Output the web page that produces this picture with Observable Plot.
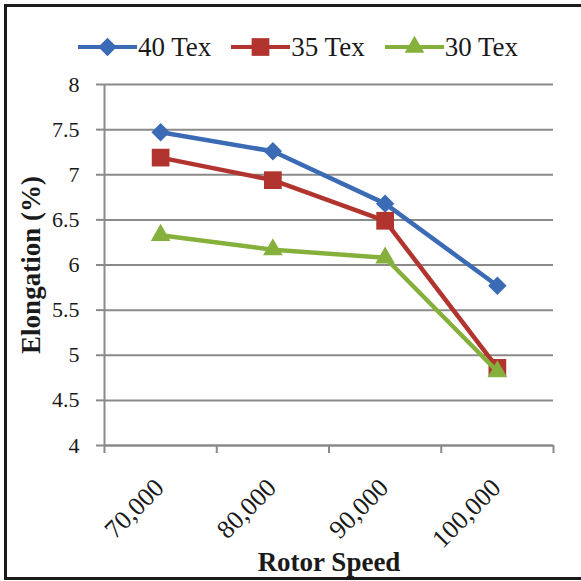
<!DOCTYPE html>
<html><head><meta charset="utf-8">
<script src="https://cdn.jsdelivr.net/npm/d3@7"></script>
<script src="https://cdn.jsdelivr.net/npm/@observablehq/plot@0.6"></script>
<style>
body{margin:0;background:#fff;}
#wrap{position:relative;width:581px;height:581px;overflow:hidden;font-family:"Liberation Serif","Times New Roman",serif;background:#fff;}
#frame{position:absolute;left:4px;top:4px;width:620px;height:576px;border:3px solid #1a1a1a;border-right:none;box-sizing:border-box;pointer-events:none;}
#chart{position:absolute;left:0;top:0;}
#chart svg, #chart svg text{font-family:"Liberation Serif","Times New Roman",serif !important;}
#legend{position:absolute;left:78px;top:31px;height:32px;display:flex;align-items:center;font-size:27px;color:#1a1a1a;white-space:nowrap;}
#legend .item{display:flex;align-items:center;margin-right:20px;}
#legend svg{display:block;}
</style>
</head><body>
<div id="wrap"><div id="chart"></div><div id="legend"></div><div id="frame"></div></div>
<script>
const categories = ["70,000", "80,000", "90,000", "100,000"];
const seriesNames = ["40 Tex", "35 Tex", "30 Tex"];
const tex40 = [7.47, 7.26, 6.68, 5.77];
const tex35 = [7.19, 6.94, 6.49, 4.86];
const tex30 = [6.33, 6.17, 6.08, 4.82];
const yTicks = [4, 4.5, 5, 5.5, 6, 6.5, 7, 7.5, 8];
const colors = ["#3b6bb4", "#b2342f", "#86b03c"];
const symbols = [d3.symbolDiamond2, d3.symbolSquare, d3.symbolTriangle];
const radii = [8.3, 10, 7.3];

const values = [tex40, tex35, tex30];
const font = "Liberation Serif, Times New Roman, serif";
const ink = "#1a1a1a";
const gridColor = "#8a8a8a";

const seriesData = seriesNames.map((name, s) =>
  categories.map((c, i) => ({series: name, cat: c, i, v: values[s][i]})));

const marks = [
  Plot.gridY(yTicks, {stroke: gridColor, strokeOpacity: 1, strokeWidth: 2}),
  Plot.ruleX([-0.5], {stroke: gridColor, strokeWidth: 2}),
  Plot.axisY(yTicks, {tickSize: 8, tickPadding: 17, stroke: gridColor, strokeWidth: 2, fill: ink,
    fontSize: 22, fontFamily: font, tickFormat: d => String(d), label: null}),
  Plot.axisX([-0.5, 0.5, 1.5, 2.5, 3.5], {tickSize: 8, stroke: gridColor, strokeWidth: 2,
    tickFormat: () => "", label: null}),
  Plot.ruleY([4], {stroke: gridColor, strokeWidth: 2}),
  Plot.text(categories, {x: (d, i) => i, y: () => 4, text: d => d, rotate: -45, textAnchor: "end",
    lineAnchor: "middle", dx: -1, dy: 38, fontSize: 26, fontFamily: font, fill: ink}),
  Plot.text(["Rotor Speed"], {frameAnchor: "bottom", lineAnchor: "middle", textAnchor: "middle", dy: 117,
    fontSize: 27, fontWeight: "bold", fontFamily: font, fill: ink}),
  Plot.text(["Elongation (%)"], {frameAnchor: "left", lineAnchor: "middle", textAnchor: "middle", dx: -73, rotate: -90,
    fontSize: 27, fontWeight: "bold", fontFamily: font, fill: ink})
];
seriesData.forEach((data, s) => {
  marks.push(Plot.line(data, {x: "i", y: "v", stroke: colors[s], strokeWidth: 4.5, strokeLinejoin: "round"}));
  marks.push(Plot.dot(data, {x: "i", y: "v", symbol: () => symbols[s], r: radii[s], fill: colors[s], stroke: "none"}));
});

const chart = Plot.plot({
  width: 581, height: 581,
  marginTop: 84, marginBottom: 136, marginLeft: 104, marginRight: 28,
  x: {type: "linear", domain: [-0.5, 3.5], axis: null},
  y: {domain: [4, 8], axis: null},
  style: {fontFamily: font, background: "transparent", overflow: "visible"},
  marks
});
document.getElementById("chart").appendChild(chart);

const legend = d3.select("#legend");
seriesNames.forEach((name, s) => {
  const item = legend.append("div").attr("class", "item");
  const svg = item.append("svg").attr("width", 60).attr("height", 24);
  svg.append("line").attr("x1", 0).attr("x2", 59).attr("y1", 12).attr("y2", 12)
    .attr("stroke", colors[s]).attr("stroke-width", 4);
  svg.append("path").attr("transform", "translate(29.5,12)")
    .attr("d", d3.symbol(symbols[s], Math.PI * radii[s] * radii[s])())
    .attr("fill", colors[s]);
  item.append("span").text(name);
});
</script>
</body></html>
